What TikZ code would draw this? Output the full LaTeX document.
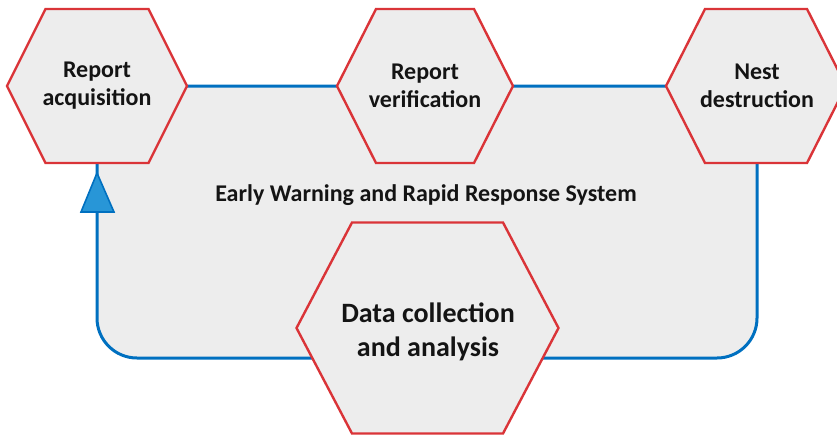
\documentclass[tikz,border=0pt]{standalone}
\usepackage{fontspec}
\setmainfont{Carlito}
\definecolor{hexred}{RGB}{218,52,56}
\definecolor{boxgray}{RGB}{237,237,237}
\definecolor{lineblue}{RGB}{0,112,192}
\definecolor{arrowblue}{RGB}{40,150,215}
\newcommand\myhex[5]{\draw[hexshape] (#1-#3,#2) -- (#1-#4,#2-#5) -- (#1+#4,#2-#5) -- (#1+#3,#2) -- (#1+#4,#2+#5) -- (#1-#4,#2+#5) -- cycle;}
\tikzset{
  hexshape/.style={draw=hexred, fill=boxgray, line width=2.4pt, line join=miter},
  loopline/.style={draw=lineblue, fill=boxgray, line width=3pt, rounded corners=40pt},
  hextext/.style={font=\bfseries\fontsize{24}{28}\selectfont, align=center, text=black!92},
  bigtext/.style={font=\bfseries\fontsize{28}{34}\selectfont, align=center, text=black!92},
  systext/.style={font=\bfseries\fontsize{24}{28}\selectfont, text=black!92},
  markerarrow/.style={draw=lineblue, fill=arrowblue, line width=1.6pt, line join=miter}
}
\begin{document}
\begin{tikzpicture}[x=1pt,y=-1pt]
\useasboundingbox (0,0) rectangle (837,437);
\draw[loopline] (97,86) rectangle (757,358);
\myhex{97}{86}{90}{51.5}{77}
\myhex{425}{86}{88}{49}{77}
\myhex{756}{86}{90}{51}{77}
\myhex{427.5}{328}{131}{75.5}{105.5}
\draw[markerarrow] (97,173) -- (114,212) -- (81,212) -- cycle;
\node[hextext] (acq) at (97,86) {Report\\acquisition};
\node[hextext] (ver) at (425,86) {Report\\verification};
\node[hextext] (nest) at (757,86) {Nest\\destruction};
\node[bigtext] (data) at (428,332) {Data collection\\and analysis};
\node[systext] (sys) at (426,195) {Early Warning and Rapid Response System};
\end{tikzpicture}
\end{document}
